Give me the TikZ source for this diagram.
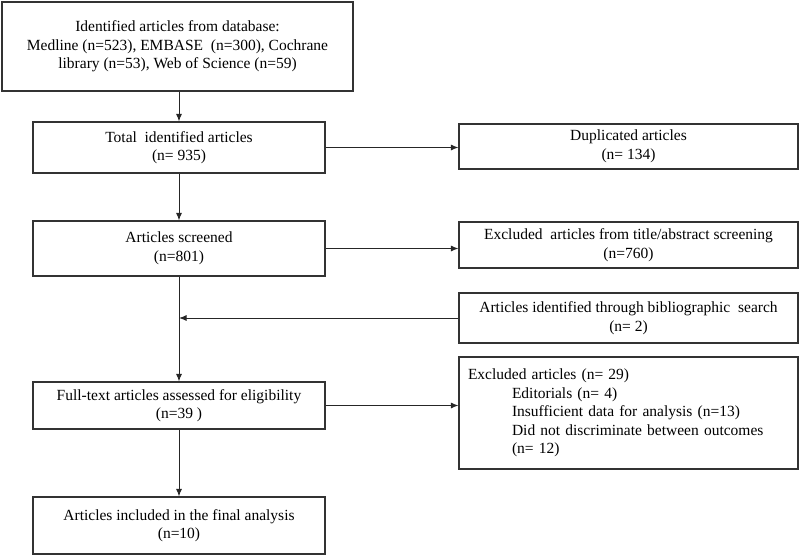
\documentclass[tikz,border=0pt]{standalone}
\usepackage{fontspec}
\setmainfont{Liberation Serif}
\usetikzlibrary{arrows.meta}
\begin{document}
\begin{tikzpicture}[x=1pt,y=-1pt,
  box/.style={draw=black!80,line width=1.1pt,rectangle,inner sep=0pt,align=center,
    font=\fontsize{15.5}{18.5}\selectfont},
  lbox/.style={box,right box,align=left,text width=321pt,inner xsep=9pt},
  right box/.style={minimum width=339pt},
  left box/.style={minimum width=292pt},
  arr/.style={draw=black!85,line width=1pt,-{Latex[length=7.5pt,width=6pt]}}]
\useasboundingbox (0,0) rectangle (800,557);
\node[box,minimum width=351pt,minimum height=89pt] (b1) at (177.5,46.5)
  {Identified articles from database:\\Medline (n=523), EMBASE\ \ (n=300), Cochrane\\library (n=53), Web of Science (n=59)};
\node[box,left box,minimum height=51pt] (b2) at (179,147.5) {Total\ \ identified articles\\(n= 935)};
\node[box,left box,minimum height=55pt] (b3) at (179,248.5) {Articles screened\\(n=801)};
\node[box,left box,minimum height=47pt] (b4) at (179,405.5) {Full-text articles assessed for eligibility\\(n=39 )};
\node[box,left box,minimum height=57pt] (b5) at (179,525.5) {Articles included in the final analysis\\(n=10)};
\node[box,right box,minimum height=45pt] (dup) at (628.5,146.5) {Duplicated articles\\(n= 134)};
\node[box,right box,minimum height=46pt] (ex1) at (628.5,245) {Excluded\ \ articles from title/abstract screening\\(n=760)};
\node[box,right box,minimum height=50pt] (bib) at (628.5,318) {Articles identified through bibliographic\ \ search\\(n= 2)};
\node[lbox,minimum height=112pt] (ex2) at (628.5,413) {Excluded articles (n= 29)\\
  \hspace*{44pt}Editorials (n= 4)\\
  \hspace*{44pt}Insufficient data for analysis (n=13)\\
  \hspace*{44pt}Did not discriminate between outcomes\\
  \hspace*{44pt}(n= 12)};
\coordinate (j) at (b3.south |- bib.west);
\draw[arr] (b1.south -| b2.north) -- (b2.north);
\draw[arr] (b2.south) -- (b3.north);
\draw[arr] (b3.south) -- (b4.north);
\draw[arr] (bib.west) -- (j);
\draw[arr] (b4.south) -- (b5.north);
\draw[arr] (b2.east) -- (b2.east -| dup.west);
\draw[arr] (b3.east) -- (b3.east -| ex1.west);
\draw[arr] (b4.east) -- (b4.east -| ex2.west);
\end{tikzpicture}
\end{document}
